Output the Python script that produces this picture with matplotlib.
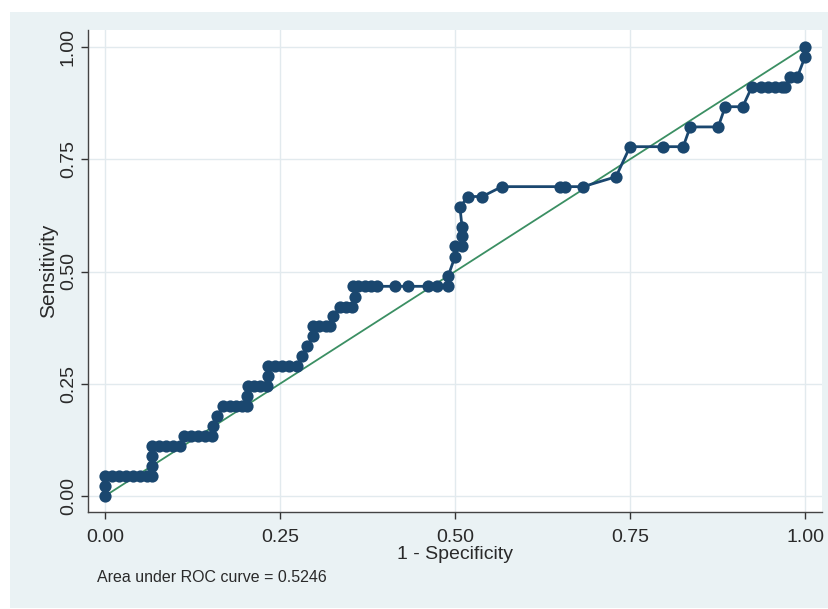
import numpy as np
import matplotlib
matplotlib.use("Agg")
import matplotlib.pyplot as plt
from matplotlib.patches import Rectangle

# ROC points (1 - specificity, sensitivity)
fpr = [0.000, 0.000, 0.000, 0.010, 0.020, 0.030, 0.040, 0.050, 0.060, 0.067,
       0.067, 0.067, 0.067, 0.077, 0.087, 0.097, 0.107,
       0.113, 0.123, 0.133, 0.143, 0.153, 0.154, 0.160,
       0.169, 0.178, 0.187, 0.196, 0.203, 0.203, 0.204, 0.213, 0.222, 0.231,
       0.233, 0.233, 0.243, 0.253, 0.263, 0.274,
       0.281, 0.289, 0.297, 0.297, 0.306, 0.315, 0.321, 0.326,
       0.336, 0.345, 0.353, 0.357, 0.354, 0.362, 0.371, 0.380, 0.389,
       0.414, 0.433, 0.461, 0.474, 0.490, 0.490,
       0.500, 0.500, 0.510, 0.510, 0.510, 0.507, 0.519, 0.539, 0.567,
       0.650, 0.657, 0.683, 0.730, 0.750, 0.797, 0.826, 0.836, 0.876,
       0.886, 0.911, 0.924, 0.937, 0.947, 0.957, 0.967, 0.971,
       0.979, 0.989, 1.000, 1.000]
tpr = [0.000, 0.022, 0.044, 0.044, 0.044, 0.044, 0.044, 0.044, 0.044, 0.044,
       0.067, 0.089, 0.111, 0.111, 0.111, 0.111, 0.111,
       0.133, 0.133, 0.133, 0.133, 0.133, 0.156, 0.178,
       0.200, 0.200, 0.200, 0.200, 0.200, 0.222, 0.244, 0.244, 0.244, 0.244,
       0.267, 0.289, 0.289, 0.289, 0.289, 0.289,
       0.311, 0.333, 0.356, 0.378, 0.378, 0.378, 0.378, 0.400,
       0.422, 0.422, 0.422, 0.444, 0.467, 0.467, 0.467, 0.467, 0.467,
       0.467, 0.467, 0.467, 0.467, 0.467, 0.489,
       0.533, 0.556, 0.556, 0.578, 0.600, 0.644, 0.667, 0.667, 0.689,
       0.689, 0.689, 0.689, 0.711, 0.778, 0.778, 0.778, 0.822, 0.822,
       0.867, 0.867, 0.911, 0.911, 0.911, 0.911, 0.911, 0.911,
       0.933, 0.933, 0.978, 1.000]

ticks = [0.0, 0.25, 0.5, 0.75, 1.0]
tick_labels = ["0.00", "0.25", "0.50", "0.75", "1.00"]
auc_text = "Area under ROC curve = 0.5246"

plt.rcParams['font.family'] = ['Liberation Sans', 'DejaVu Sans']

W, H = 829, 609
fig = plt.figure(figsize=(W / 100, H / 100), dpi=100, facecolor='white')

# Stata-like graph region behind everything
bg = Rectangle((10 / W, 1 / H), 819 / W, 596 / H, transform=fig.transFigure,
               facecolor='#eaf2f4', edgecolor='none', zorder=-10)
fig.add_artist(bg)

ax = fig.add_axes([88 / W, 1 - 512 / H, 734 / W, 482 / H])
ax.set_zorder(1)
ax.set_facecolor('white')

ax.set_xlim(-17 / 700, 1 + 17 / 700)
ax.set_ylim(-16 / 449, 1 + 17 / 449)

for v in ticks:
    ax.axvline(v, color='#e2eaee', lw=1.0, zorder=1)
    ax.axhline(v, color='#e2eaee', lw=1.0, zorder=1)

ax.plot([0, 1], [0, 1], color='#3b8f63', lw=1.3, zorder=2)
ax.plot(fpr, tpr, color='#1a476f', lw=2.0, marker='o', markersize=8.8,
        markeredgewidth=0, zorder=3)

ax.set_xticks(ticks)
ax.set_xticklabels(tick_labels)
ax.set_yticks(ticks)
ax.set_yticklabels(tick_labels, rotation=90, va='center')
ax.tick_params(axis='both', direction='out', length=5, width=1,
               color='#333333', labelsize=14, labelcolor='#2a2a2a')
ax.tick_params(axis='x', pad=7)
ax.tick_params(axis='y', pad=3)

for s in ['top', 'right']:
    ax.spines[s].set_visible(False)
for s in ['left', 'bottom']:
    ax.spines[s].set_color('#444444')
    ax.spines[s].set_linewidth(1.0)

ax.set_xlabel("1 - Specificity", fontsize=14, color='#2a2a2a', labelpad=0)
ax.set_ylabel("Sensitivity", fontsize=15, color='#2a2a2a', labelpad=1)

fig.text(97 / W, 1 - 578 / H, auc_text, fontsize=11.5, color='#2a2a2a',
         va='center', ha='left')

fig.savefig("out.png", dpi=100, facecolor=fig.get_facecolor())
